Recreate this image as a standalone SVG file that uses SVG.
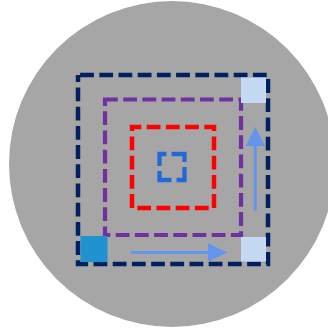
<svg xmlns="http://www.w3.org/2000/svg" width="328" height="331" viewBox="0 0 328 331">
  <style>
    .ring { fill: none; stroke-dasharray: 13.8 5.4; }
    .arrow-line { stroke: #6495ED; stroke-width: 3; fill: none; }
    .arrow-head { fill: #6495ED; }
    .light { fill: #C6D9F2; }
  </style>
  <g id="background">
    <circle cx="172" cy="164" r="163" fill="#A6A6A6"/>
  </g>
  <g id="square-purple">
    <rect class="ring" x="105" y="99.5" width="136" height="135.5" stroke="#7030A0" stroke-width="4.2" stroke-dashoffset="1"/>
  </g>
  <g id="square-red">
    <rect class="ring" x="132" y="127" width="82" height="81" stroke="#FF0000" stroke-width="4.5" stroke-dashoffset="4.5"/>
  </g>
  <g id="square-blue">
    <rect x="159.5" y="154" width="25" height="26" fill="none" stroke="#2468D8" stroke-width="4.3" stroke-dasharray="21 5" stroke-dashoffset="14"/>
  </g>
  <g id="square-navy">
    <rect class="ring" x="78" y="75" width="190" height="189" stroke="#002060" stroke-width="4.5" stroke-dashoffset="-2.1"/>
  </g>
  <g id="corner-top-right">
    <rect class="light" x="241" y="77.5" width="25" height="25.5"/>
  </g>
  <g id="corner-bottom-right">
    <rect class="light" x="241" y="237" width="25" height="24.5"/>
  </g>
  <g id="corner-bottom-left">
    <rect x="80.5" y="236" width="27" height="26" fill="#2092D0"/>
  </g>
  <g id="connectors">
    <line class="arrow-line" x1="131" y1="252.4" x2="210" y2="252.4"/>
    <polygon class="arrow-head" points="208,243.3 227.3,252.4 208,261.7"/>
    <line class="arrow-line" x1="255.3" y1="210.7" x2="255.3" y2="144"/>
    <polygon class="arrow-head" points="245.7,146 255.3,126.7 265,146"/>
  </g>
</svg>
